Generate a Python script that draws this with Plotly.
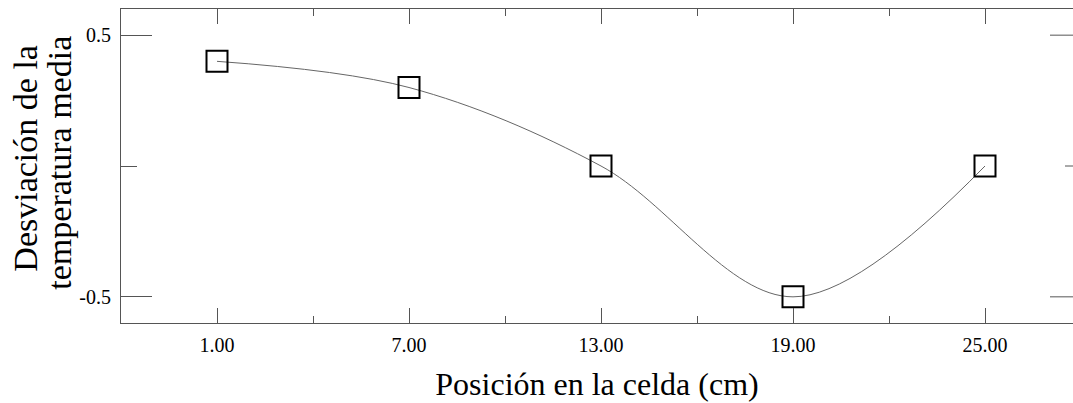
import plotly.graph_objects as go

# Data
posicion = [1, 7, 13, 19, 25]
desviacion = [0.40, 0.30, 0.0, -0.50, 0.0]

x_tickvals = [1, 7, 13, 19, 25]
x_ticktext = ["1.00", "7.00", "13.00", "19.00", "25.00"]
x_minor_vals = [4, 10, 16, 22]
y_tickvals = [-0.5, 0.5]
y_ticktext = ["-0.5", "0.5"]
y_minor_vals = [0.0]

x_title = "Posición en la celda (cm)"
y_title_lines = ["Desviación de la", "temperatura media"]

FONT = "Liberation Serif, Times New Roman, serif"
AXC = "#555555"

fig = go.Figure()
fig.add_trace(go.Scatter(
    x=posicion, y=desviacion, mode="lines",
    line=dict(color="#666666", width=1, shape="spline", smoothing=1.0),
    hoverinfo="skip", showlegend=False,
))
fig.add_trace(go.Scatter(
    x=posicion, y=desviacion, mode="markers",
    marker=dict(symbol="square-open", size=21, color="black",
                line=dict(width=2, color="black")),
    showlegend=False,
))

# right-hand frame ticks (frame edge lies just beyond the visible area)
X_RIGHT = 28.0
X_MAJ_LEN = 31 / 32
X_MIN_LEN = 16 / 32
for yv in y_tickvals:
    fig.add_shape(type="line", xref="x", yref="y", x0=X_RIGHT, x1=X_RIGHT - X_MAJ_LEN,
                  y0=yv, y1=yv, line=dict(color=AXC, width=1))
for yv in y_minor_vals:
    fig.add_shape(type="line", xref="x", yref="y", x0=X_RIGHT, x1=X_RIGHT - X_MIN_LEN,
                  y0=yv, y1=yv, line=dict(color=AXC, width=1))

# two-line y-axis title with tight line spacing
for i, (txt, xp, yp) in enumerate(zip(y_title_lines, [-0.1003, -0.0646], [0.525, 0.509])):
    fig.add_annotation(text=txt, xref="paper", yref="paper", x=xp, y=yp,
                       xanchor="center", yanchor="middle", textangle=-90,
                       showarrow=False, font=dict(size=34, family=FONT, color="black"))

fig.update_layout(
    width=1073, height=403,
    margin=dict(l=121, r=0, t=9, b=80),
    paper_bgcolor="white", plot_bgcolor="white",
    font=dict(family=FONT, color="black"),
    xaxis=dict(
        range=[-2, 27.75],
        tickmode="array", tickvals=x_tickvals, ticktext=x_ticktext,
        ticks="inside", ticklen=15, tickwidth=1, tickcolor=AXC,
        ticklabelstandoff=4,
        minor=dict(tickmode="array", tickvals=x_minor_vals, ticks="inside",
                   ticklen=7, tickcolor=AXC, showgrid=False),
        showline=True, linecolor=AXC, linewidth=1, mirror="ticks",
        showgrid=False, zeroline=False,
        tickfont=dict(size=20, family=FONT, color="black"),
        title=dict(text=x_title, font=dict(size=32, family=FONT, color="black"), standoff=17),
    ),
    yaxis=dict(
        range=[-0.6, 0.6],
        tickmode="array", tickvals=y_tickvals, ticktext=y_ticktext,
        ticks="inside", ticklen=31, tickwidth=1, tickcolor=AXC,
        ticklabelstandoff=5,
        minor=dict(tickmode="array", tickvals=y_minor_vals, ticks="inside",
                   ticklen=16, tickcolor=AXC, showgrid=False),
        showline=True, linecolor=AXC, linewidth=1, mirror=False,
        showgrid=False, zeroline=False,
        tickfont=dict(size=20, family=FONT, color="black"),
    ),
)

fig.write_html("out.html")
